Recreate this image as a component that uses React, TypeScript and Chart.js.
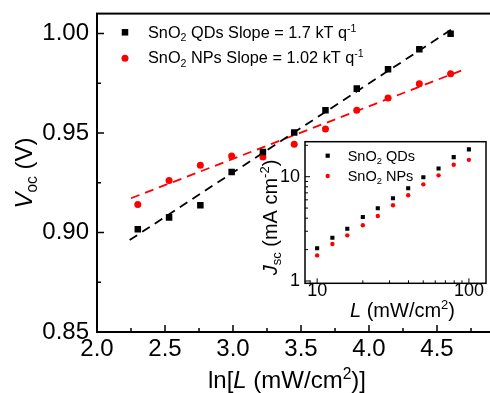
import React, { useEffect, useRef } from 'react';
import { Chart, registerables } from 'chart.js';
Chart.register(...registerables);

// ---------- Main plot data ----------
const lnL = [2.30, 2.53, 2.76, 2.99, 3.22, 3.45, 3.68, 3.91, 4.14, 4.37, 4.60];
const vocQDs = [0.9016, 0.9076, 0.9137, 0.9304, 0.9405, 0.9502, 0.9614, 0.9723, 0.9820, 0.9921, 0.9999];
const vocNPs = [0.9141, 0.9261, 0.9338, 0.9384, 0.9379, 0.9443, 0.9520, 0.9614, 0.9676, 0.9748, 0.9798];
const fitQDsX = [2.24, 4.63];
const fitQDsY = [0.8962, 1.0031];
const fitNPsX = [2.25, 4.71];
const fitNPsY = [0.9172, 0.9822];
const xTicks = [2.0, 2.5, 3.0, 3.5, 4.0, 4.5];
const xMinorTicks = [2.25, 2.75, 3.25, 3.75, 4.25, 4.75];
const yTicks = [0.85, 0.90, 0.95, 1.00];
const yMinorTicks = [0.875, 0.925, 0.975];

// ---------- Inset data ----------
const L = [10, 12.6, 15.8, 20, 25.1, 31.6, 39.8, 50.1, 63.1, 79.4, 100];
const jscQDs = [2.06, 2.60, 3.17, 4.11, 4.98, 6.21, 7.74, 9.87, 12.0, 15.4, 18.3];
const jscNPs = [1.76, 2.26, 2.74, 3.42, 4.20, 5.32, 6.63, 8.45, 10.3, 13.0, 14.5];
const insetXTicks = [10, 100];
const insetXMinor = [9, 20, 30, 40, 50, 60, 70, 80, 90];
const insetYTicks = [1, 10];
const insetYMinor = [2, 3, 4, 5, 6, 7, 8, 9, 20];

const FONT = '"Liberation Sans", Arial, Helvetica, sans-serif';
const RED = '#ff0000';

type Seg = { t: string; it?: boolean; sub?: boolean; sup?: boolean };

function segFont(s: Seg, size: number) {
  const sz = s.sub || s.sup ? size * 0.65 : size;
  return `${s.it ? 'italic ' : ''}${sz}px ${FONT}`;
}
function measureRich(ctx: CanvasRenderingContext2D, segs: Seg[], size: number) {
  let w = 0;
  for (const s of segs) {
    ctx.font = segFont(s, size);
    w += ctx.measureText(s.t).width;
  }
  return w;
}
function drawRich(ctx: CanvasRenderingContext2D, segs: Seg[], x: number, y: number, size: number, align: 'left' | 'center') {
  ctx.save();
  ctx.textBaseline = 'alphabetic';
  ctx.textAlign = 'left';
  ctx.fillStyle = '#000';
  let cx = align === 'center' ? x - measureRich(ctx, segs, size) / 2 : x;
  for (const s of segs) {
    ctx.font = segFont(s, size);
    const dy = s.sub ? size * 0.2 : s.sup ? -size * 0.38 : 0;
    ctx.fillText(s.t, cx, y + dy);
    cx += ctx.measureText(s.t).width;
  }
  ctx.restore();
}
function drawRichRotated(ctx: CanvasRenderingContext2D, segs: Seg[], x: number, y: number, size: number) {
  ctx.save();
  ctx.translate(x, y);
  ctx.rotate(-Math.PI / 2);
  drawRich(ctx, segs, 0, 0, size, 'center');
  ctx.restore();
}
function drawSquare(ctx: CanvasRenderingContext2D, x: number, y: number, side: number, color: string) {
  ctx.fillStyle = color;
  ctx.fillRect(x - side / 2, y - side / 2, side, side);
}
function drawDot(ctx: CanvasRenderingContext2D, x: number, y: number, r: number, color: string) {
  ctx.fillStyle = color;
  ctx.beginPath();
  ctx.arc(x, y, r, 0, Math.PI * 2);
  ctx.fill();
}

interface FrameCfg {
  xMajor: number[]; xMinor: number[]; yMajor: number[]; yMinor: number[];
  majorLen: number; minorLen: number; tickWidth: number; frameWidth: number;
  bg: boolean; extra: (ctx: CanvasRenderingContext2D) => void;
}
function framePlugin(cfg: FrameCfg) {
  return {
    id: 'frameTicks',
    beforeDraw(chart: any) {
      if (!cfg.bg) return;
      const { ctx, chartArea: a } = chart;
      ctx.save();
      ctx.fillStyle = '#fff';
      ctx.fillRect(a.left, a.top, a.right - a.left, a.bottom - a.top);
      ctx.restore();
    },
    afterDatasetsDraw(chart: any) {
      const { ctx, chartArea: a, scales } = chart;
      const xs = scales.x, ys = scales.y;
      ctx.save();
      ctx.strokeStyle = '#000';
      ctx.lineWidth = cfg.tickWidth;
      ctx.beginPath();
      const xt = (vals: number[], len: number) => {
        for (const v of vals) {
          const p = xs.getPixelForValue(v);
          ctx.moveTo(p, a.bottom);
          ctx.lineTo(p, a.bottom - len);
        }
      };
      const yt = (vals: number[], len: number) => {
        for (const v of vals) {
          const p = ys.getPixelForValue(v);
          ctx.moveTo(a.left, p);
          ctx.lineTo(a.left + len, p);
        }
      };
      xt(cfg.xMajor, cfg.majorLen);
      xt(cfg.xMinor, cfg.minorLen);
      yt(cfg.yMajor, cfg.majorLen);
      yt(cfg.yMinor, cfg.minorLen);
      ctx.stroke();
      ctx.lineWidth = cfg.frameWidth;
      ctx.strokeRect(a.left, a.top, a.right - a.left, a.bottom - a.top);
      ctx.restore();
    },
    afterDraw(chart: any) {
      cfg.extra(chart.ctx);
    },
  };
}

const fitX = (h: number) => (s: any) => {
  s.height = h;
  s.paddingLeft = 0;
  s.paddingRight = 0;
  s.paddingTop = 0;
  s.paddingBottom = 0;
};
const fitY = (w: number) => (s: any) => {
  s.width = w;
  s.paddingLeft = 0;
  s.paddingRight = 0;
  s.paddingTop = 0;
  s.paddingBottom = 0;
};

export default function App() {
  const mainRef = useRef<HTMLCanvasElement>(null);
  const insetRef = useRef<HTMLCanvasElement>(null);

  useEffect(() => {
    const tickFontMain = { family: FONT, size: 24 };
    const main = new Chart(mainRef.current as HTMLCanvasElement, {
      type: 'scatter',
      data: {
        datasets: [
          {
            label: 'SnO2 QDs',
            data: lnL.map((x, i) => ({ x, y: vocQDs[i] })),
            pointStyle: 'rect',
            pointRadius: 4.6,
            backgroundColor: '#000',
            borderColor: '#000',
            borderWidth: 0,
          },
          {
            label: 'SnO2 NPs',
            data: lnL.map((x, i) => ({ x, y: vocNPs[i] })),
            pointStyle: 'circle',
            pointRadius: 3.5,
            backgroundColor: RED,
            borderColor: RED,
            borderWidth: 0,
          },
          {
            label: 'QDs fit',
            data: fitQDsX.map((x, i) => ({ x, y: fitQDsY[i] })),
            showLine: true,
            pointRadius: 0,
            borderColor: '#000',
            borderWidth: 1.8,
            borderDash: [9, 6],
            fill: false,
          },
          {
            label: 'NPs fit',
            data: fitNPsX.map((x, i) => ({ x, y: fitNPsY[i] })),
            showLine: true,
            pointRadius: 0,
            borderColor: RED,
            borderWidth: 1.8,
            borderDash: [9, 6],
            fill: false,
          },
        ],
      },
      options: {
        animation: false,
        responsive: false,
        devicePixelRatio: 1,
        events: [],
        layout: { padding: { left: 0, top: 13.6, right: 8.6, bottom: 0 } },
        plugins: { legend: { display: false }, tooltip: { enabled: false } },
        scales: {
          x: {
            type: 'linear',
            min: 2.0,
            max: 4.9,
            afterBuildTicks: (s: any) => { s.ticks = xTicks.map((v) => ({ value: v })); },
            afterFit: fitX(61),
            grid: { display: false, drawTicks: false },
            border: { display: false },
            ticks: {
              padding: 3,
              color: '#000',
              font: tickFontMain,
              maxRotation: 0,
              autoSkip: false,
              callback: (v: any) => Number(v).toFixed(1),
            },
          },
          y: {
            type: 'linear',
            min: 0.85,
            max: 1.01,
            afterBuildTicks: (s: any) => { s.ticks = yTicks.map((v) => ({ value: v })); },
            afterFit: fitY(97),
            grid: { display: false, drawTicks: false },
            border: { display: false },
            ticks: {
              padding: 8,
              color: '#000',
              font: tickFontMain,
              autoSkip: false,
              callback: (v: any) => Number(v).toFixed(2),
            },
          },
        },
      } as any,
      plugins: [
        framePlugin({
          xMajor: xTicks, xMinor: xMinorTicks, yMajor: yTicks, yMinor: yMinorTicks,
          majorLen: 7, minorLen: 4, tickWidth: 1.5, frameWidth: 2, bg: false,
          extra: (ctx) => {
            // legend
            drawSquare(ctx, 125, 32.3, 6.5, '#000');
            drawRich(ctx, [{ t: 'SnO' }, { t: '2', sub: true }, { t: ' QDs Slope = 1.7 kT q' }, { t: '-1', sup: true }], 148, 37.7, 16.3, 'left');
            drawDot(ctx, 125, 58.3, 3.5, RED);
            drawRich(ctx, [{ t: 'SnO' }, { t: '2', sub: true }, { t: ' NPs Slope = 1.02 kT q' }, { t: '-1', sup: true }], 148, 63.3, 16.3, 'left');
            // axis titles
            drawRich(ctx, [{ t: 'ln[' }, { t: 'L', it: true }, { t: ' (mW/cm' }, { t: '2', sup: true }, { t: ')]' }], 287, 388.3, 24, 'center');
            drawRichRotated(ctx, [{ t: 'V', it: true }, { t: 'oc', sub: true }, { t: ' (V)' }], 32, 173, 24);
          },
        }) as any,
      ],
    });

    const tickFontInset = { family: FONT, size: 18, lineHeight: 1 };
    const inset = new Chart(insetRef.current as HTMLCanvasElement, {
      type: 'scatter',
      data: {
        datasets: [
          {
            label: 'SnO2 QDs',
            data: L.map((x, i) => ({ x, y: jscQDs[i] })),
            pointStyle: 'rect',
            pointRadius: 2.9,
            backgroundColor: '#000',
            borderColor: '#000',
            borderWidth: 0,
          },
          {
            label: 'SnO2 NPs',
            data: L.map((x, i) => ({ x, y: jscNPs[i] })),
            pointStyle: 'circle',
            pointRadius: 2.2,
            backgroundColor: RED,
            borderColor: RED,
            borderWidth: 0,
          },
        ],
      },
      options: {
        animation: false,
        responsive: false,
        devicePixelRatio: 1,
        events: [],
        layout: { padding: { left: 0, top: 11.7, right: 1.7, bottom: 0 } },
        plugins: { legend: { display: false }, tooltip: { enabled: false } },
        scales: {
          x: {
            type: 'logarithmic',
            min: 8.318,
            max: 129.6,
            afterBuildTicks: (s: any) => { s.ticks = insetXTicks.map((v) => ({ value: v })); },
            afterFit: fitX(41.7),
            grid: { display: false, drawTicks: false },
            border: { display: false },
            ticks: {
              padding: -1,
              color: '#000',
              font: tickFontInset,
              maxRotation: 0,
              autoSkip: false,
              callback: (v: any) => String(v),
            },
          },
          y: {
            type: 'logarithmic',
            min: 0.95,
            max: 21.66,
            afterBuildTicks: (s: any) => { s.ticks = insetYTicks.map((v) => ({ value: v })); },
            afterFit: fitY(55),
            grid: { display: false, drawTicks: false },
            border: { display: false },
            ticks: {
              padding: 5,
              color: '#000',
              font: tickFontInset,
              autoSkip: false,
              callback: (v: any) => String(v),
            },
          },
        },
      } as any,
      plugins: [
        framePlugin({
          xMajor: insetXTicks, xMinor: insetXMinor, yMajor: insetYTicks, yMinor: insetYMinor,
          majorLen: 5, minorLen: 3, tickWidth: 1, frameWidth: 1.5, bg: true,
          extra: (ctx) => {
            drawSquare(ctx, 77.7, 25.7, 4.2, '#000');
            drawRich(ctx, [{ t: 'SnO' }, { t: '2', sub: true }, { t: ' QDs' }], 97.7, 30.7, 14.5, 'left');
            drawDot(ctx, 77.7, 46, 2.2, RED);
            drawRich(ctx, [{ t: 'SnO' }, { t: '2', sub: true }, { t: ' NPs' }], 97.7, 51, 14.5, 'left');
            drawRich(ctx, [{ t: 'L', it: true }, { t: ' (mW/cm' }, { t: '2', sup: true }, { t: ')' }], 152.5, 186.7, 20, 'center');
            drawRichRotated(ctx, [{ t: 'J', it: true }, { t: 'sc', sub: true }, { t: ' (mA cm' }, { t: '-2', sup: true }, { t: ')' }], 26.6, 87.5, 20);
          },
        }) as any,
      ],
    });

    return () => {
      main.destroy();
      inset.destroy();
    };
  }, []);

  return (
    <div style={{ position: 'absolute', left: 0, top: 0, width: 490, height: 393, overflow: 'hidden', background: '#fff' }}>
      <canvas ref={mainRef} width={500} height={393} style={{ position: 'absolute', left: 0, top: 0, width: 500, height: 393 }} />
      <canvas ref={insetRef} width={240} height={195} style={{ position: 'absolute', left: 250, top: 130, width: 240, height: 195 }} />
    </div>
  );
}
